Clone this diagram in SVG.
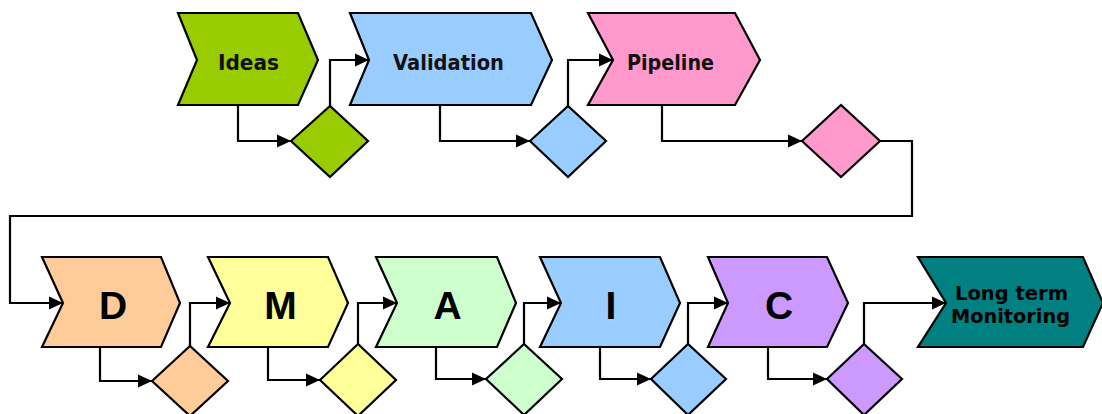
<svg xmlns="http://www.w3.org/2000/svg" width="1102" height="414" viewBox="0 0 1102 414">
<style>
.s{stroke:#000;stroke-width:2.2;stroke-linejoin:miter}
.c{fill:none;stroke:#000;stroke-width:2.2}
.t{font-family:"DejaVu Sans",Verdana,sans-serif;font-weight:bold;font-size:21.5px;fill:#111;text-anchor:middle}
.l{font-family:"DejaVu Sans",Verdana,sans-serif;font-weight:bold;font-size:20px;fill:#000;text-anchor:middle}
.b{font-family:"Liberation Sans",Arial,sans-serif;font-weight:bold;font-size:39px;fill:#000;text-anchor:middle}
</style>
<defs>
<marker id="ah" markerWidth="14" markerHeight="14" refX="14" refY="7" orient="auto" markerUnits="userSpaceOnUse">
<path d="M0,0.5 L14,7 L0,13.5 z" fill="#000"/>
</marker>
</defs>
<rect width="1102" height="414" fill="#fff"/>
<g id="connectors">
<polyline class="c" points="238,105 238,141 291,141" marker-end="url(#ah)"/>
<polyline class="c" points="330,106 330,60 369,60" marker-end="url(#ah)"/>
<polyline class="c" points="440,105 440,141 530,141" marker-end="url(#ah)"/>
<polyline class="c" points="568,106 568,60 613,60" marker-end="url(#ah)"/>
<polyline class="c" points="662,105 662,141 802,141" marker-end="url(#ah)"/>
<polyline class="c" points="880,141 912,141 912,216 10,216 10,303 63,303" marker-end="url(#ah)"/>
<polyline class="c" points="100,347 100,381 152,381" marker-end="url(#ah)"/>
<polyline class="c" points="190,346 190,303 230,303" marker-end="url(#ah)"/>
<polyline class="c" points="268,347 268,380 320,380" marker-end="url(#ah)"/>
<polyline class="c" points="358,344 358,303 397,303" marker-end="url(#ah)"/>
<polyline class="c" points="436,347 436,379 486,379" marker-end="url(#ah)"/>
<polyline class="c" points="524,344 524,303 561,303" marker-end="url(#ah)"/>
<polyline class="c" points="600,347 600,379 651,379" marker-end="url(#ah)"/>
<polyline class="c" points="688,344 688,303 728,303" marker-end="url(#ah)"/>
<polyline class="c" points="768,347 768,379 827,379" marker-end="url(#ah)"/>
<polyline class="c" points="864,344 864,303 946,303" marker-end="url(#ah)"/>
</g>
<g id="ideas">
<polygon class="s" fill="#99CC00" points="178,13 298,13 318,60 298,105 178,105 197,60"/>
<text class="t" x="248.5" y="70" textLength="61" lengthAdjust="spacingAndGlyphs">Ideas</text>
</g>
<g id="ideas-decision"><polygon class="s" fill="#99CC00" points="291,141 330,106 368,141 330,177"/></g>
<g id="validation">
<polygon class="s" fill="#99CCFF" points="350,13 531,13 552,60 531,105 350,105 369,60"/>
<text class="t" x="448.5" y="70" textLength="111" lengthAdjust="spacingAndGlyphs">Validation</text>
</g>
<g id="validation-decision"><polygon class="s" fill="#99CCFF" points="530,141 568,106 606,141 568,177"/></g>
<g id="pipeline">
<polygon class="s" fill="#FF99CC" points="588,13 735,13 760,60 735,105 588,105 613,60"/>
<text class="t" x="670.5" y="70" textLength="87" lengthAdjust="spacingAndGlyphs">Pipeline</text>
</g>
<g id="pipeline-decision"><polygon class="s" fill="#FF99CC" points="802,141 841,105 880,141 841,177"/></g>
<g id="d">
<polygon class="s" fill="#FFCC99" points="42,257 161,257 180,303 161,347 42,347 63,303"/>
<text class="b" x="113" y="319">D</text>
</g>
<g id="d-decision"><polygon class="s" fill="#FFCC99" points="152,381 190,346 228,381 190,416"/></g>
<g id="m">
<polygon class="s" fill="#FFFF99" points="208,257 328,257 348,303 328,347 208,347 230,303"/>
<text class="b" x="280.5" y="319">M</text>
</g>
<g id="m-decision"><polygon class="s" fill="#FFFF99" points="320,380 358,344 396,380 358,416"/></g>
<g id="a">
<polygon class="s" fill="#CCFFCC" points="376,257 497,257 516,303 497,347 376,347 397,303"/>
<text class="b" x="447.5" y="319">A</text>
</g>
<g id="a-decision"><polygon class="s" fill="#CCFFCC" points="486,379 524,344 562,379 524,415"/></g>
<g id="i">
<polygon class="s" fill="#99CCFF" points="540,257 660,257 680,303 660,347 540,347 561,303"/>
<text class="b" x="611" y="319">I</text>
</g>
<g id="i-decision"><polygon class="s" fill="#99CCFF" points="651,379 688,344 726,379 688,415"/></g>
<g id="c">
<polygon class="s" fill="#CC99FF" points="708,257 827,257 848,303 827,347 708,347 728,303"/>
<text class="b" x="779" y="319">C</text>
</g>
<g id="c-decision"><polygon class="s" fill="#CC99FF" points="827,379 864,344 902,379 864,415"/></g>
<g id="long-term-monitoring">
<polygon class="s" fill="#008080" points="918,257 1083,257 1103,303 1083,347 918,347 946,303"/>
<text class="l" x="1011.5" y="300" textLength="113" lengthAdjust="spacingAndGlyphs">Long term</text>
<text class="l" x="1010.5" y="323" textLength="119" lengthAdjust="spacingAndGlyphs">Monitoring</text>
</g>
</svg>
